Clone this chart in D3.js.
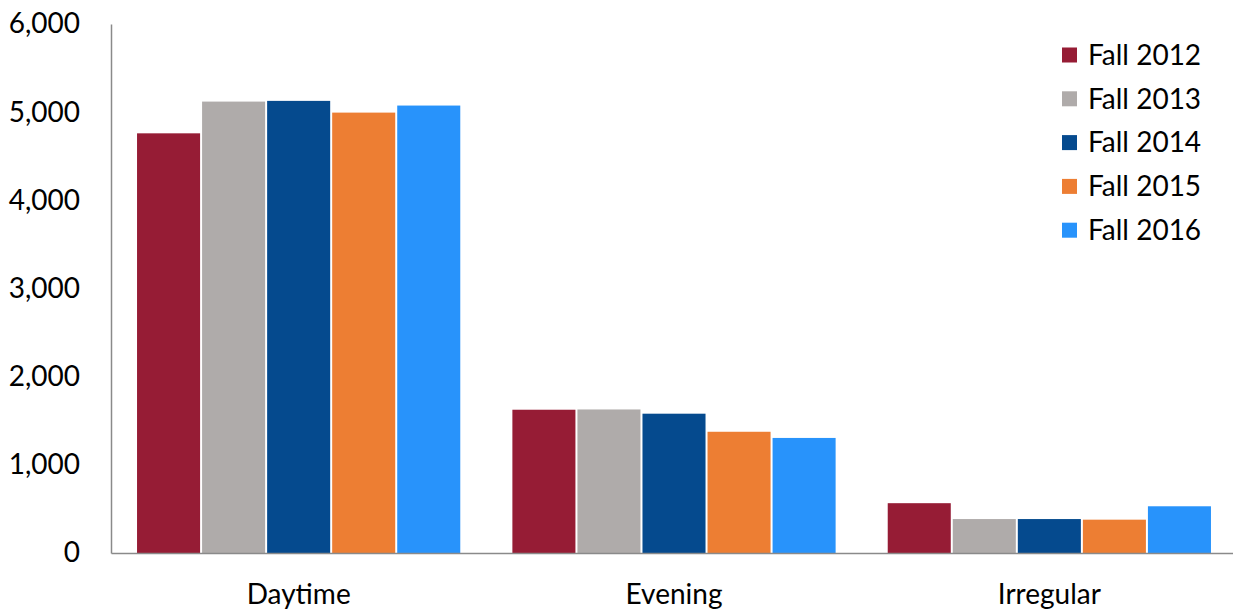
<!DOCTYPE html>
<html><head><meta charset="utf-8">
<script src="https://cdn.jsdelivr.net/npm/d3@7"></script>
<style>body{margin:0;background:#fff;} svg{display:block;} text{font-family:Lato,"Open Sans",sans-serif;fill:#000;}</style>
</head><body><svg id="c" width="1233" height="612"></svg>
<script>
const categories = ["Daytime", "Evening", "Irregular"];
const seriesNames = ["Fall 2012", "Fall 2013", "Fall 2014", "Fall 2015", "Fall 2016"];
const fall2012 = [4760, 1625, 565];
const fall2013 = [5120, 1628, 385];
const fall2014 = [5128, 1580, 385];
const fall2015 = [4995, 1375, 378];
const fall2016 = [5075, 1305, 530];
const yTicks = [0, 1000, 2000, 3000, 4000, 5000, 6000];
const colors = ["#961c35", "#afabaa", "#054a8e", "#ed7e33", "#2893fb"];

const seriesValues = [fall2012, fall2013, fall2014, fall2015, fall2016];
const svg = d3.select("#c");
const x0 = d3.scaleBand().domain(categories).range([111, 1237]).paddingInner(0.1335).paddingOuter(0.0667);
const x1 = d3.scaleBand().domain(seriesNames).range([0, x0.bandwidth()]).padding(0);
const y = d3.scaleLinear().domain([0, 6000]).range([553, 24]);

// bars
categories.forEach((cat, ci) => {
  const g = svg.append("g").attr("transform", `translate(${x0(cat)},0)`);
  seriesNames.forEach((s, si) => {
    const v = seriesValues[si][ci];
    g.append("rect")
      .attr("x", x1(s) + 1)
      .attr("width", x1.bandwidth() - 2)
      .attr("y", y(v))
      .attr("height", y(0) - y(v))
      .attr("fill", colors[si]);
  });
});

// y axis
const yAxis = d3.axisLeft(y).tickValues(yTicks).tickFormat(d3.format(",")).tickSize(0).tickPadding(31);
const ya = svg.append("g").attr("transform", "translate(111,0)").call(yAxis);
ya.select(".domain").attr("stroke", "#8a8a8a").attr("stroke-width", 1.5);
ya.selectAll("text").style("font-size", "28px").attr("font-family", null);

// x axis
const xAxis = d3.axisBottom(x0).tickSize(0).tickPadding(31);
const xa = svg.append("g").attr("transform", "translate(0,553)").call(xAxis);
xa.select(".domain").attr("stroke", "#8a8a8a").attr("stroke-width", 1.5);
xa.selectAll("text").style("font-size", "28px").attr("font-family", null);
svg.selectAll(".tick text").attr("fill", "#000");

// legend
const leg = svg.append("g").attr("transform", "translate(1062,55)");
seriesNames.forEach((s, i) => {
  const r = leg.append("g").attr("transform", `translate(0,${i * 43.8})`);
  r.append("rect").attr("x", 0).attr("y", -7.5).attr("width", 15).attr("height", 15).attr("fill", colors[i]);
  r.append("text").attr("x", 26).attr("y", 0).attr("dy", "0.35em").style("font-size", "28px").text(s);
});
</script></body></html>
